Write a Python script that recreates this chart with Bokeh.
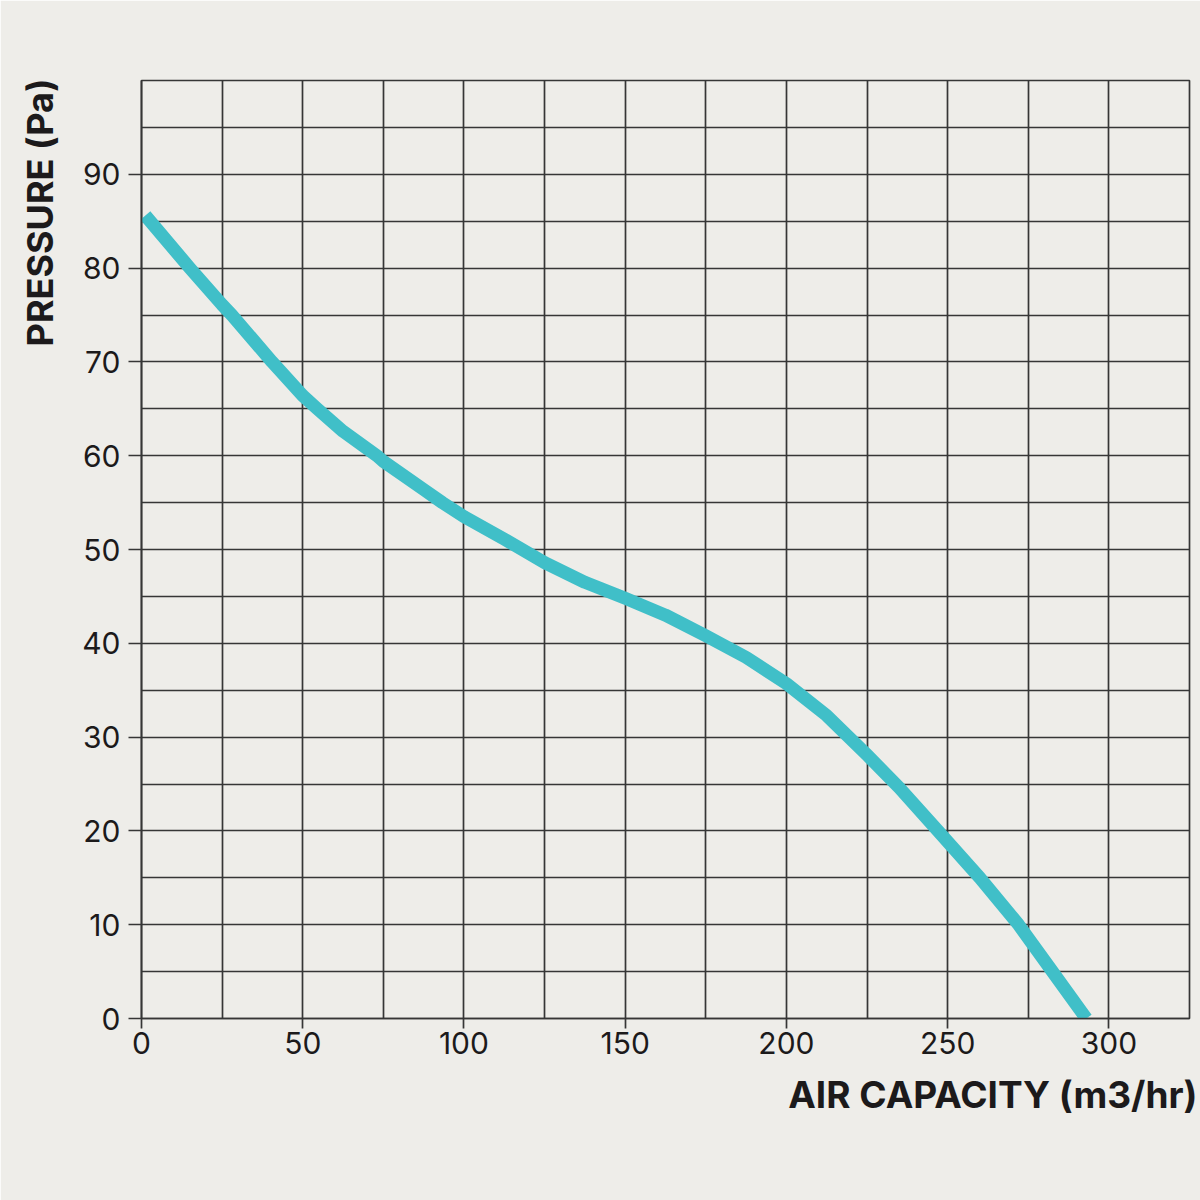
from bokeh.plotting import figure
from bokeh.models import Range1d, FixedTicker, Title
from bokeh.embed import file_html
from bokeh.resources import INLINE

# Fan performance curve: air capacity (m3/hr) against static pressure (Pa)
air_capacity = [1.2, 15, 25, 28, 40.5, 50, 54.5, 62.5, 73, 75, 87.5, 93.3, 100,
                112.5, 125, 137.5, 150, 162.5, 175, 187.5, 200, 212.5, 225,
                235, 247, 260, 272, 282.5, 293]
pressure = [85.6, 80, 76.1, 75, 70, 66.4, 65, 62.6, 60, 59.4, 56.4, 55, 53.5,
            51.1, 48.6, 46.5, 44.8, 43, 40.8, 38.5, 35.7, 32.3, 28.1,
            24.6, 20, 15, 10, 5, 0]

x_ticks = [0, 50, 100, 150, 200, 250, 300]
y_ticks = [0, 10, 20, 30, 40, 50, 60, 70, 80, 90]
x_grid = list(range(0, 326, 25))
y_grid = list(range(0, 101, 5))

x_title = "AIR CAPACITY (m3/hr)"
y_title = "PRESSURE (Pa)"

BG = "#eeede9"
GRID = "#363636"
INK = "#1c1a1b"
CURVE = "#40bfc8"
FONT = "Inter"

p = figure(width=1200, height=1200, output_backend="svg", toolbar_location=None,
           x_range=Range1d(0, 325), y_range=Range1d(0, 100),
           min_border_left=141, min_border_right=11,
           min_border_top=80, min_border_bottom=182)

p.background_fill_color = BG
p.border_fill_color = BG
p.outline_line_color = GRID
p.outline_line_width = 1.7

p.xgrid.ticker = FixedTicker(ticks=x_grid)
p.ygrid.ticker = FixedTicker(ticks=y_grid)
for g in (p.xgrid, p.ygrid):
    g.grid_line_color = GRID
    g.grid_line_width = 1.7
    g.grid_line_alpha = 1.0

p.xaxis.ticker = FixedTicker(ticks=x_ticks)
p.yaxis.ticker = FixedTicker(ticks=y_ticks)
for ax in (p.xaxis, p.yaxis):
    ax.axis_line_color = GRID
    ax.axis_line_width = 1.7
    ax.major_tick_line_color = GRID
    ax.major_tick_line_width = 1.7
    ax.major_tick_in = 0
    ax.minor_tick_line_color = None
    ax.major_label_text_font = FONT
    ax.major_label_text_font_size = "30px"
    ax.major_label_text_color = INK
p.xaxis.major_tick_out = 10
p.xaxis.major_label_standoff = 3
p.yaxis.major_tick_out = 13
p.yaxis.major_label_standoff = 8

p.line(air_capacity, pressure, line_color=CURVE, line_width=13, line_cap="butt",
       line_join="round")

# Axis titles sit in the side panels, pushed to the far ends of the frame
p.add_layout(Title(text=x_title, align="right", offset=-8, standoff=27,
                   text_font=FONT, text_font_size="37px", text_font_style="bold",
                   text_color=INK), "below")
p.add_layout(Title(text=y_title, align="right", offset=-2, standoff=32,
                   vertical_align="top",
                   text_font=FONT, text_font_size="36px", text_font_style="bold",
                   text_color=INK), "left")

open("out.html", "w").write(file_html(p, INLINE))
